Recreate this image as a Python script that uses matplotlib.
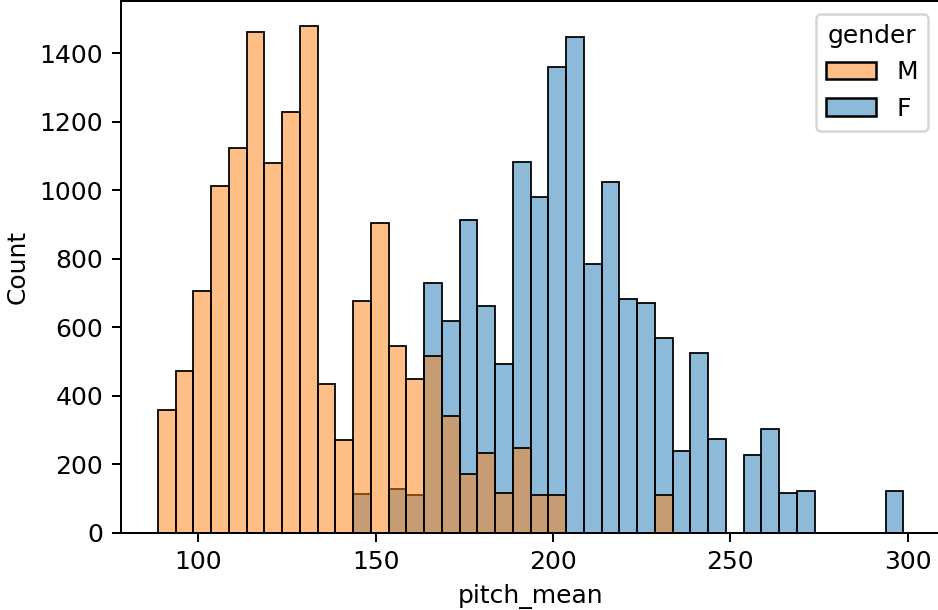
import numpy as np
import pandas as pd
import seaborn as sns
import matplotlib
matplotlib.use('Agg')
import matplotlib.pyplot as plt

# границы бинов (42 бина шириной ~5)
edges = np.linspace(88.64, 298.77, 43)

# количество по бинам для мужчин и женщин
counts_m = [357, 472, 706, 1013, 1123, 1461, 1081, 1229, 1479, 433,
            270, 676, 904, 544, 449, 515, 341, 172, 233, 117,
            247, 111, 109, 0, 0, 0, 0, 0, 111, 0,
            0, 0, 0, 0, 0, 0, 0, 0, 0, 0, 0, 0]
counts_f = [0, 0, 0, 0, 0, 0, 0, 0, 0, 0,
            0, 114, 0, 128, 109, 729, 617, 914, 662, 493,
            1082, 980, 1361, 1449, 784, 1025, 682, 671, 570, 238,
            525, 274, 0, 227, 304, 115, 122, 0, 0, 0, 0, 122]

centers = (edges[:-1] + edges[1:]) / 2
df = pd.DataFrame({
    'pitch_mean': np.concatenate([centers, centers]),
    'count': counts_m + counts_f,
    'gender': ['M'] * len(centers) + ['F'] * len(centers),
})

DPI = 180
fig = plt.figure(figsize=(938 / DPI, 610 / DPI), dpi=DPI)
ax = fig.add_axes([120.7 / 938, 77.3 / 610, 819.9 / 938, 531.7 / 610])

sns.histplot(data=df, x='pitch_mean', weights='count', hue='gender',
             hue_order=['M', 'F'], palette={'M': 'C1', 'F': 'C0'},
             bins=list(edges), ax=ax)

fig.savefig('out.png', dpi=DPI)
